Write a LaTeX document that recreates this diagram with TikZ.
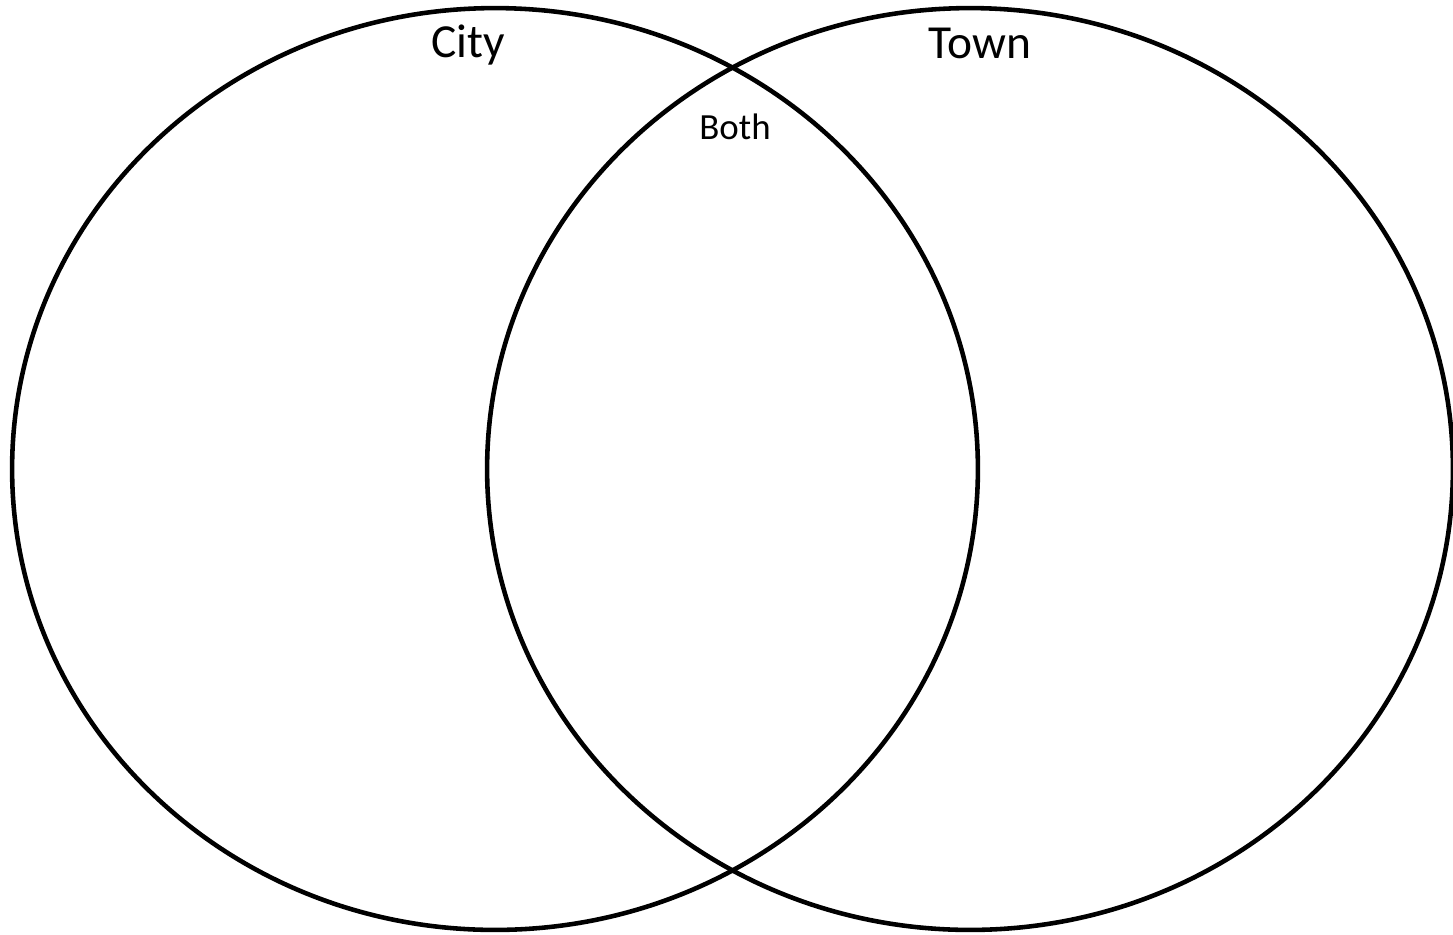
\documentclass[tikz,border=0pt]{standalone}
\usepackage{fontspec}
\setmainfont{Carlito}
\usetikzlibrary{shapes.geometric, positioning}

\begin{document}
\begin{tikzpicture}[
  x=0.02cm, y=-0.02cm,
  setring/.style={draw, ellipse, line width=2.6pt, inner sep=0pt,
    minimum width=19.32cm, minimum height=18.44cm},
  setname/.style={font=\fontsize{27}{32}\selectfont, inner sep=0pt},
  overlap/.style={font=\fontsize{21}{25}\selectfont, inner sep=0pt}
]
  \useasboundingbox (0,0) rectangle (1453,934);

  % Sets
  \node[setring] (city) at (495, 469) {};
  \node[setring] (town) at (970, 469) {};

  % Labels
  \node[setname] (citylbl) at (468, 45) {City};
  \node[setname] (townlbl) at (980, 43) {Town};
  \node[overlap] (bothlbl) at (735, 127) {Both};
\end{tikzpicture}
\end{document}
